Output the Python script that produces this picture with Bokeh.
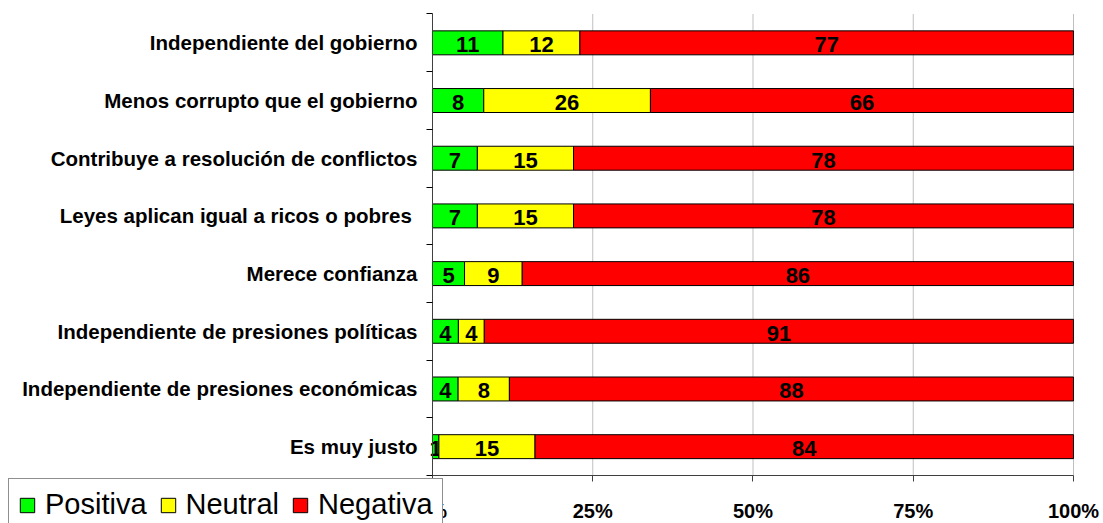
import numpy as np
from bokeh.plotting import figure
from bokeh.models import (ColumnDataSource, Range1d, FixedTicker, LinearAxis,
                          PrintfTickFormatter, Legend, LegendItem)
from bokeh.core.properties import value
from bokeh.embed import file_html
from bokeh.resources import INLINE

categories = [
    "Independiente del gobierno",
    "Menos corrupto que el gobierno",
    "Contribuye a resolución de conflictos",
    "Leyes  aplican igual a ricos o pobres",
    "Merece confianza",
    "Independiente de presiones políticas",
    "Independiente de presiones económicas",
    "Es muy justo",
]
positiva = [11, 8, 7, 7, 5, 4, 4, 1]
neutral = [12, 26, 15, 15, 9, 4, 8, 15]
negativa = [77, 66, 78, 78, 86, 91, 88, 84]
series_names = ["Positiva", "Neutral", "Negativa"]
series_colors = ["#00FF00", "#FFFF00", "#FF0000"]
x_ticks = [0, 25, 50, 75, 100]

FONT = "Liberation Sans"

n = len(categories)
ycent = [2 * (n - 1 - i) + 1 for i in range(n)]
vals = np.array([positiva, neutral, negativa], dtype=float)
tot = vals.sum(axis=0)
pct = vals / tot * 100.0
rights = np.cumsum(pct, axis=0)
lefts = rights - pct

# frame covers the whole canvas; axes are fixed inside it
p = figure(width=1103, height=523, output_backend="svg", toolbar_location=None,
           x_range=Range1d(-67.39, 104.68), y_range=Range1d(-1.664, 2 * n + 0.468),
           x_axis_location=None, y_axis_location=None,
           min_border_left=0, min_border_right=0, min_border_top=0,
           min_border_bottom=0)
p.outline_line_color = None
p.background_fill_color = "white"
p.border_fill_color = "white"
p.xgrid.visible = False
p.ygrid.visible = False

# vertical gridlines
p.segment(x0=x_ticks[1:], x1=x_ticks[1:], y0=[0] * 4, y1=[2 * n] * 4,
          line_color="#c0c0c0", line_width=1)

renderers = []
for k in range(3):
    src = ColumnDataSource(dict(y=ycent, left=lefts[k], right=rights[k],
                                mid=(lefts[k] + rights[k]) / 2,
                                lab=[str(int(v)) for v in vals[k]]))
    r = p.hbar(y="y", left="left", right="right", height=0.83, source=src,
               fill_color=series_colors[k], line_color="black", line_width=1)
    renderers.append(r)
    p.text(x="mid", y="y", text="lab", source=src, text_align="center",
           text_baseline="middle", text_font=value(FONT), text_font_style="bold",
           text_font_size="22px", text_color="black", y_offset=2)

# x axis
xa = LinearAxis(ticker=FixedTicker(ticks=x_ticks),
                formatter=PrintfTickFormatter(format="%d%%"),
                fixed_location=0, bounds=(0, 100))
xa.major_label_text_font = FONT
xa.major_label_text_font_style = "bold"
xa.major_label_text_font_size = "20px"
xa.major_label_text_color = "black"
xa.major_tick_out = 6
xa.major_tick_in = 0
xa.minor_tick_out = 0
xa.minor_tick_in = 0
xa.axis_line_color = "#404040"
xa.major_tick_line_color = "#404040"
xa.major_label_standoff = 18
p.add_layout(xa, "below")

# y axis
ya = LinearAxis(ticker=FixedTicker(ticks=ycent, minor_ticks=list(range(0, 2 * n + 1, 2))),
                fixed_location=0, bounds=(0, 2 * n))
ya.major_label_overrides = {int(y): c for y, c in zip(ycent, categories)}
ya.major_label_text_font = FONT
ya.major_label_text_font_style = "bold"
ya.major_label_text_font_size = "20.5px"
ya.major_label_text_color = "black"
ya.major_tick_out = 0
ya.major_tick_in = 0
ya.minor_tick_out = 6
ya.minor_tick_in = 0
ya.minor_tick_line_color = "black"
ya.axis_line_color = "#404040"
ya.major_label_standoff = 9
p.add_layout(ya, "left")

legend = Legend(items=[LegendItem(label=nm, renderers=[r]) for nm, r in zip(series_names, renderers)],
                orientation="horizontal", location=(8, -8))
legend.label_text_font = FONT
legend.label_text_font_size = "29px"
legend.label_text_color = "black"
legend.glyph_width = 18
legend.glyph_height = 18
legend.label_height = 30
legend.label_standoff = 9
legend.spacing = 12
legend.padding = 9
legend.margin = 0
legend.border_line_color = "#202020"
legend.border_line_width = 1
legend.background_fill_alpha = 1
legend.background_fill_color = "white"
p.add_layout(legend, "center")

open("out.html", "w").write(file_html(p, INLINE))
